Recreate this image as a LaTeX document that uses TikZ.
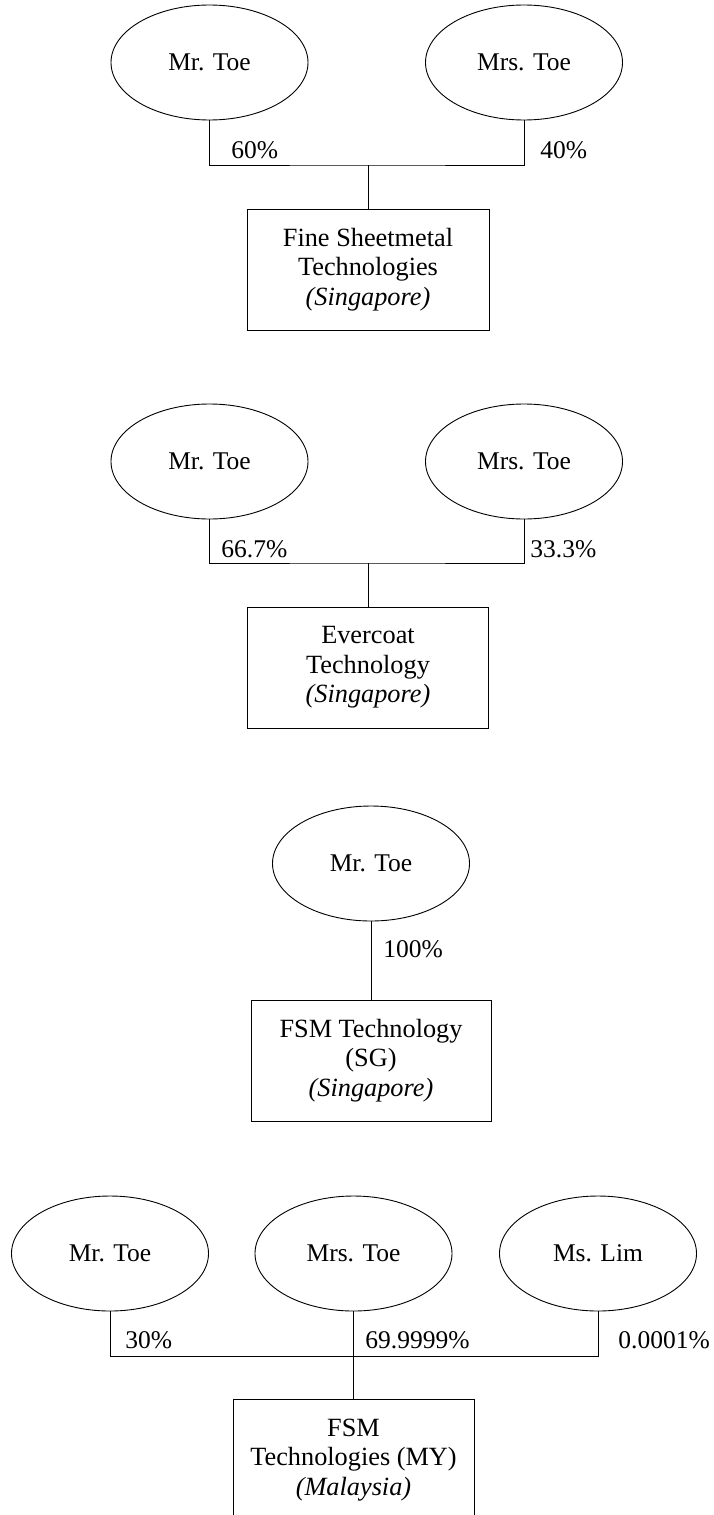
\documentclass[tikz,border=0pt]{standalone}
\usepackage{fontspec}
\setmainfont{Liberation Serif}
\usetikzlibrary{shapes.geometric}

\begin{document}
\begin{tikzpicture}[
  x=1pt, y=-1pt,
  line width=0.9pt,
  person/.style={draw, ellipse, inner sep=0pt, minimum width=197pt, minimum height=115pt,
    font=\fontsize{25.5}{29.5}\selectfont},
  firm/.style={draw, rectangle, inner sep=0pt, minimum width=242pt, minimum height=121pt,
    align=center, font=\fontsize{26.3}{29.5}\selectfont},
  pct/.style={anchor=base west, inner sep=0pt, font=\fontsize{25.5}{29.5}\selectfont},
]
\useasboundingbox (0,0) rectangle (714,1515);
\clip (0,0) rectangle (714,1515);

% ---- Fine Sheetmetal Technologies ----
\node[person] (a1) at (209.5,62.5) {Mr. Toe};
\node[person] (b1) at (524,62.5) {Mrs. Toe};
\node[firm] (c1) at (368,269.5) {Fine Sheetmetal\\Technologies\\\itshape(Singapore)};
\coordinate (j1) at (368,165);
\draw (a1.south) |- (j1) -| (b1.south);
\draw (j1) -- (c1.north);
\node[pct] (p1a) at (231,158) {60\%};
\node[pct] (p1b) at (540,158) {40\%};

% ---- Evercoat Technology ----
\node[person] (a2) at (209.5,461.5) {Mr. Toe};
\node[person] (b2) at (524,461.5) {Mrs. Toe};
\node[firm, minimum width=241pt] (c2) at (368,667.5) {Evercoat\\Technology\\\itshape(Singapore)};
\coordinate (j2) at (368,563);
\draw (a2.south) |- (j2) -| (b2.south);
\draw (j2) -- (c2.north);
\node[pct] (p2a) at (221,557) {66.7\%};
\node[pct] (p2b) at (530,557) {33.3\%};

% ---- FSM Technology (SG) ----
\node[person] (a3) at (371,863.5) {Mr. Toe};
\node[firm, minimum width=240pt] (c3) at (371,1060.5) {FSM Technology\\(SG)\\\itshape(Singapore)};
\draw (a3.south) -- (c3.north);
\node[pct] (p3) at (383,957) {100\%};

% ---- FSM Technologies (MY) ----
\node[person] (a4) at (110,1253.5) {Mr. Toe};
\node[person] (b4) at (353.5,1253.5) {Mrs. Toe};
\node[person] (d4) at (598,1253.5) {Ms. Lim};
\node[firm, minimum width=241pt, minimum height=122pt] (c4) at (353.5,1460) {FSM\\Technologies (MY)\\\itshape(Malaysia)};
\coordinate (j4) at (353.5,1356);
\draw (a4.south) |- (j4) -| (d4.south);
\draw (b4.south) -- (c4.north);
\node[pct] (p4a) at (125,1348) {30\%};
\node[pct] (p4b) at (365,1348) {69.9999\%};
\node[pct] (p4c) at (618,1348) {0.0001\%};
\end{tikzpicture}
\end{document}
